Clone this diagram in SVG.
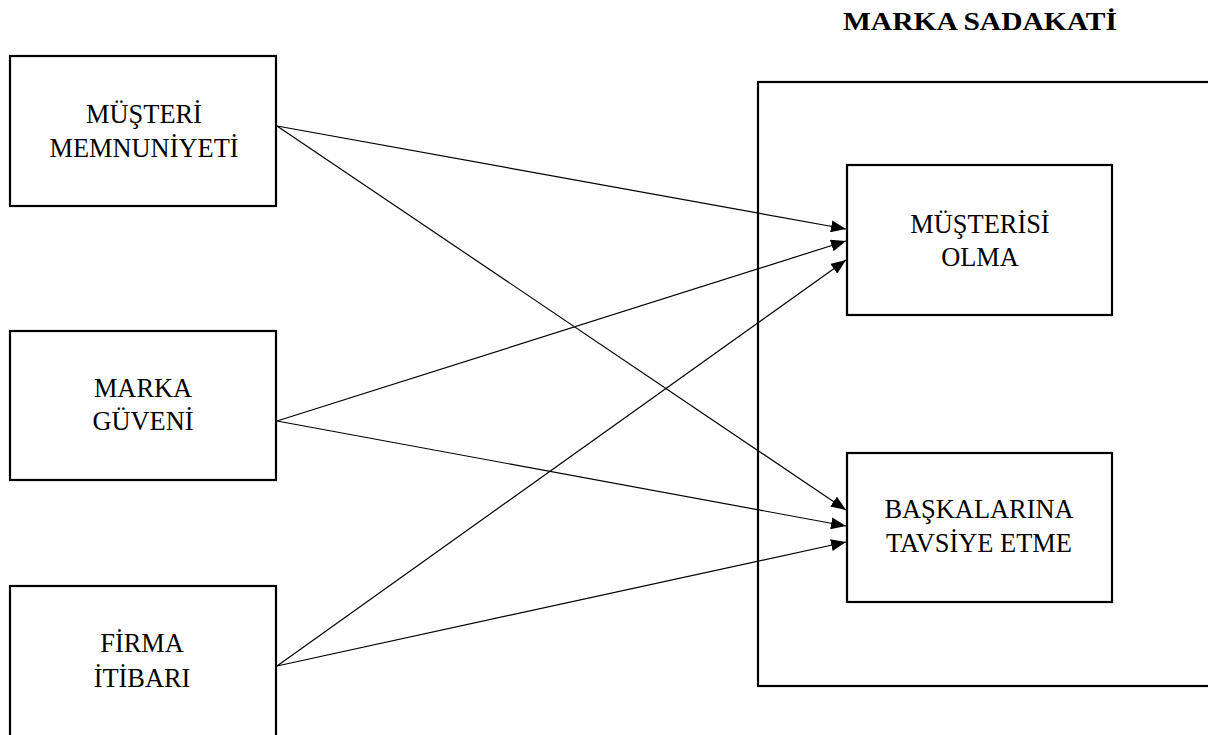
<svg xmlns="http://www.w3.org/2000/svg" width="1208" height="735" viewBox="0 0 1208 735">
  <style>
    .box { fill: #ffffff; stroke: #000000; stroke-width: 2.2; }
    .lbl { font-family: "Liberation Serif", "Times New Roman", serif; font-size: 26.4px; fill: #000000; text-anchor: middle; }
    .title { font-family: "Liberation Serif", "Times New Roman", serif; font-size: 26px; font-weight: bold; fill: #000000; }
    .edge { stroke: #000000; stroke-width: 1.2; fill: none; marker-end: url(#arrow); }
  </style>
  <defs>
    <marker id="arrow" markerUnits="userSpaceOnUse" markerWidth="16" markerHeight="12" refX="15" refY="6" orient="auto">
      <path d="M0,0 L15,6 L0,12 Z" fill="#000000"/>
    </marker>
  </defs>
  <rect width="1208" height="735" fill="#ffffff"/>

  <!-- brand loyalty container -->
  <g id="marka-sadakati">
    <text class="title" x="843" y="30" textLength="274" lengthAdjust="spacingAndGlyphs">MARKA SADAKATİ</text>
    <rect class="box" x="758" y="82" width="460" height="604"/>
  </g>

  <g id="musteri-memnuniyeti">
    <rect class="box" x="10" y="56" width="266" height="150"/>
    <text class="lbl" x="144" y="123">MÜŞTERİ</text>
    <text class="lbl" x="144" y="157">MEMNUNİYETİ</text>
  </g>

  <g id="marka-guveni">
    <rect class="box" x="10" y="331" width="266" height="149"/>
    <text class="lbl" x="143" y="397">MARKA</text>
    <text class="lbl" x="143" y="430">GÜVENİ</text>
  </g>

  <g id="firma-itibari">
    <rect class="box" x="10" y="586" width="266" height="160"/>
    <text class="lbl" x="142" y="652">FİRMA</text>
    <text class="lbl" x="142" y="687">İTİBARI</text>
  </g>

  <g id="musterisi-olma">
    <rect class="box" x="847" y="165" width="265" height="150"/>
    <text class="lbl" x="980" y="233">MÜŞTERİSİ</text>
    <text class="lbl" x="980" y="266">OLMA</text>
  </g>

  <g id="baskalarina-tavsiye">
    <rect class="box" x="847" y="453" width="265" height="149"/>
    <text class="lbl" x="979" y="518">BAŞKALARINA</text>
    <text class="lbl" x="979" y="552">TAVSİYE ETME</text>
  </g>

  <g id="connectors">
    <line class="edge" x1="277" y1="126" x2="846" y2="229"/>
    <line class="edge" x1="277" y1="126" x2="846" y2="510"/>
    <line class="edge" x1="277" y1="421" x2="846" y2="241"/>
    <line class="edge" x1="277" y1="421" x2="846" y2="526"/>
    <line class="edge" x1="277" y1="666" x2="846" y2="260"/>
    <line class="edge" x1="277" y1="666" x2="846" y2="542"/>
  </g>
</svg>
